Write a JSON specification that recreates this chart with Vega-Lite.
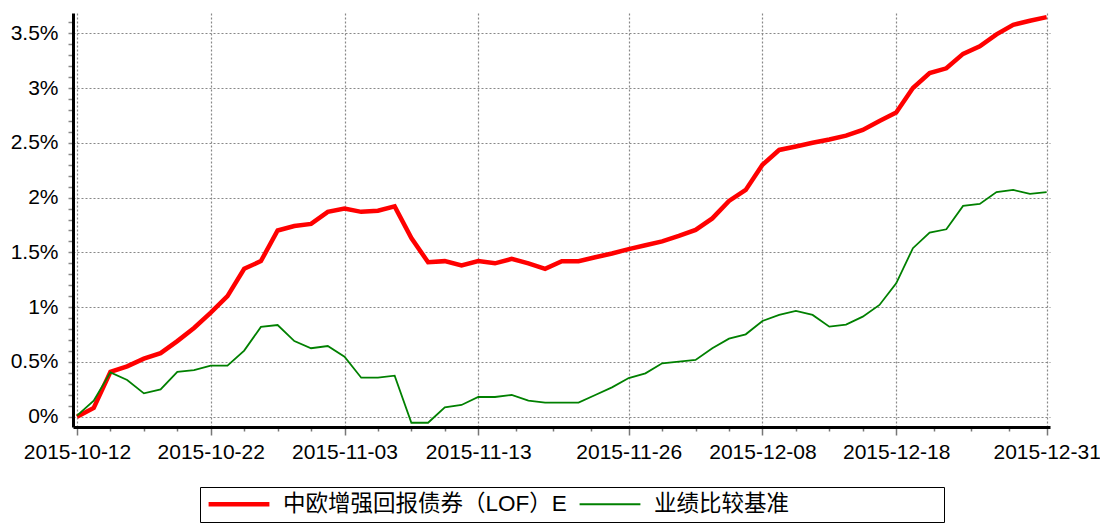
{
  "$schema": "https://vega.github.io/schema/vega-lite/v6.json",
  "autosize": "none",
  "width": 977,
  "height": 414,
  "padding": {"left": 73, "top": 13, "right": 50, "bottom": 96},
  "background": "white",
  "config": {
    "view": {"stroke": null},
    "font": "Liberation Sans, Noto Sans CJK SC"
  },
  "data": {
    "values": [
      {"i": 0, "date": "2015-10-12", "中欧增强回报债券（LOF）E": 0.00, "业绩比较基准": 0.01},
      {"i": 1, "date": "2015-10-13", "中欧增强回报债券（LOF）E": 0.08, "业绩比较基准": 0.146},
      {"i": 2, "date": "2015-10-14", "中欧增强回报债券（LOF）E": 0.41, "业绩比较基准": 0.405},
      {"i": 3, "date": "2015-10-15", "中欧增强回报债券（LOF）E": 0.46, "业绩比较基准": 0.335},
      {"i": 4, "date": "2015-10-16", "中欧增强回报债券（LOF）E": 0.53, "业绩比较基准": 0.213},
      {"i": 5, "date": "2015-10-19", "中欧增强回报债券（LOF）E": 0.58, "业绩比较基准": 0.25},
      {"i": 6, "date": "2015-10-20", "中欧增强回报债券（LOF）E": 0.69, "业绩比较基准": 0.41},
      {"i": 7, "date": "2015-10-21", "中欧增强回报债券（LOF）E": 0.81, "业绩比较基准": 0.426},
      {"i": 8, "date": "2015-10-22", "中欧增强回报债券（LOF）E": 0.95, "业绩比较基准": 0.466},
      {"i": 9, "date": "2015-10-23", "中欧增强回报债券（LOF）E": 1.10, "业绩比较基准": 0.466},
      {"i": 10, "date": "2015-10-26", "中欧增强回报债券（LOF）E": 1.35, "业绩比较基准": 0.603},
      {"i": 11, "date": "2015-10-27", "中欧增强回报债券（LOF）E": 1.42, "业绩比较基准": 0.82},
      {"i": 12, "date": "2015-10-28", "中欧增强回报债券（LOF）E": 1.70, "业绩比较基准": 0.837},
      {"i": 13, "date": "2015-10-29", "中欧增强回报债券（LOF）E": 1.74, "业绩比较基准": 0.69},
      {"i": 14, "date": "2015-10-30", "中欧增强回报债券（LOF）E": 1.76, "业绩比较基准": 0.625},
      {"i": 15, "date": "2015-11-02", "中欧增强回报债券（LOF）E": 1.87, "业绩比较基准": 0.645},
      {"i": 16, "date": "2015-11-03", "中欧增强回报债券（LOF）E": 1.90, "业绩比较基准": 0.548},
      {"i": 17, "date": "2015-11-04", "中欧增强回报债券（LOF）E": 1.87, "业绩比较基准": 0.356},
      {"i": 18, "date": "2015-11-05", "中欧增强回报债券（LOF）E": 1.88, "业绩比较基准": 0.356},
      {"i": 19, "date": "2015-11-06", "中欧增强回报债券（LOF）E": 1.92, "业绩比较基准": 0.374},
      {"i": 20, "date": "2015-11-09", "中欧增强回报债券（LOF）E": 1.63, "业绩比较基准": -0.055},
      {"i": 21, "date": "2015-11-10", "中欧增强回报债券（LOF）E": 1.41, "业绩比较基准": -0.055},
      {"i": 22, "date": "2015-11-11", "中欧增强回报债券（LOF）E": 1.42, "业绩比较基准": 0.086},
      {"i": 23, "date": "2015-11-12", "中欧增强回报债券（LOF）E": 1.38, "业绩比较基准": 0.107},
      {"i": 24, "date": "2015-11-13", "中欧增强回报债券（LOF）E": 1.42, "业绩比较基准": 0.18},
      {"i": 25, "date": "2015-11-16", "中欧增强回报债券（LOF）E": 1.40, "业绩比较基准": 0.18},
      {"i": 26, "date": "2015-11-17", "中欧增强回报债券（LOF）E": 1.44, "业绩比较基准": 0.198},
      {"i": 27, "date": "2015-11-18", "中欧增强回报债券（LOF）E": 1.40, "业绩比较基准": 0.146},
      {"i": 28, "date": "2015-11-19", "中欧增强回报债券（LOF）E": 1.35, "业绩比较基准": 0.128},
      {"i": 29, "date": "2015-11-20", "中欧增强回报债券（LOF）E": 1.42, "业绩比较基准": 0.128},
      {"i": 30, "date": "2015-11-23", "中欧增强回报债券（LOF）E": 1.42, "业绩比较基准": 0.128},
      {"i": 31, "date": "2015-11-24", "中欧增强回报债券（LOF）E": 1.455, "业绩比较基准": 0.198},
      {"i": 32, "date": "2015-11-25", "中欧增强回报债券（LOF）E": 1.49, "业绩比较基准": 0.268},
      {"i": 33, "date": "2015-11-26", "中欧增强回报债券（LOF）E": 1.53, "业绩比较基准": 0.353},
      {"i": 34, "date": "2015-11-27", "中欧增强回报债券（LOF）E": 1.565, "业绩比较基准": 0.396},
      {"i": 35, "date": "2015-11-30", "中欧增强回报债券（LOF）E": 1.60, "业绩比较基准": 0.487},
      {"i": 36, "date": "2015-12-01", "中欧增强回报债券（LOF）E": 1.65, "业绩比较基准": 0.502},
      {"i": 37, "date": "2015-12-02", "中欧增强回报债券（LOF）E": 1.705, "业绩比较基准": 0.518},
      {"i": 38, "date": "2015-12-03", "中欧增强回报债券（LOF）E": 1.81, "业绩比较基准": 0.625},
      {"i": 39, "date": "2015-12-04", "中欧增强回报债券（LOF）E": 1.97, "业绩比较基准": 0.712},
      {"i": 40, "date": "2015-12-07", "中欧增强回报债券（LOF）E": 2.07, "业绩比较基准": 0.752},
      {"i": 41, "date": "2015-12-08", "中欧增强回报债券（LOF）E": 2.30, "业绩比较基准": 0.874},
      {"i": 42, "date": "2015-12-09", "中欧增强回报债券（LOF）E": 2.435, "业绩比较基准": 0.929},
      {"i": 43, "date": "2015-12-10", "中欧增强回报债券（LOF）E": 2.466, "业绩比较基准": 0.965},
      {"i": 44, "date": "2015-12-11", "中欧增强回报债券（LOF）E": 2.50, "业绩比较基准": 0.929},
      {"i": 45, "date": "2015-12-14", "中欧增强回报债券（LOF）E": 2.53, "业绩比较基准": 0.822},
      {"i": 46, "date": "2015-12-15", "中欧增强回报债券（LOF）E": 2.566, "业绩比较基准": 0.84},
      {"i": 47, "date": "2015-12-16", "中欧增强回报债券（LOF）E": 2.618, "业绩比较基准": 0.913},
      {"i": 48, "date": "2015-12-17", "中欧增强回报债券（LOF）E": 2.70, "业绩比较基准": 1.02},
      {"i": 49, "date": "2015-12-18", "中欧增强回报债券（LOF）E": 2.776, "业绩比较基准": 1.218},
      {"i": 50, "date": "2015-12-21", "中欧增强回报债券（LOF）E": 3.00, "业绩比较基准": 1.538},
      {"i": 51, "date": "2015-12-22", "中欧增强回报债券（LOF）E": 3.136, "业绩比较基准": 1.68},
      {"i": 52, "date": "2015-12-23", "中欧增强回报债券（LOF）E": 3.18, "业绩比较基准": 1.711},
      {"i": 53, "date": "2015-12-24", "中欧增强回报债券（LOF）E": 3.312, "业绩比较基准": 1.924},
      {"i": 54, "date": "2015-12-25", "中欧增强回报债券（LOF）E": 3.38, "业绩比较基准": 1.942},
      {"i": 55, "date": "2015-12-28", "中欧增强回报债券（LOF）E": 3.49, "业绩比较基准": 2.05},
      {"i": 56, "date": "2015-12-29", "中欧增强回报债券（LOF）E": 3.577, "业绩比较基准": 2.07},
      {"i": 57, "date": "2015-12-30", "中欧增强回报债券（LOF）E": 3.614, "业绩比较基准": 2.034},
      {"i": 58, "date": "2015-12-31", "中欧增强回报债券（LOF）E": 3.647, "业绩比较基准": 2.05}
    ]
  },
  "transform": [
    {"fold": ["中欧增强回报债券（LOF）E", "业绩比较基准"], "as": ["series", "value"]}
  ],
  "mark": {"type": "line", "clip": false},
  "encoding": {
    "x": {
      "field": "i",
      "type": "quantitative",
      "scale": {"domain": [-0.24, 58.2], "nice": false, "zero": false},
      "axis": {
        "title": null,
        "values": [0, 2, 4, 6, 8, 10, 12, 14, 16, 18, 20, 22, 24, 26.25, 28.5, 30.75, 33, 35, 37, 39, 41, 43, 45, 47, 49, 51.25, 53.5, 55.75, 58],
        "labelExpr": "datum.value==0?'2015-10-12':datum.value==8?'2015-10-22':datum.value==16?'2015-11-03':datum.value==24?'2015-11-13':datum.value==33?'2015-11-26':datum.value==41?'2015-12-08':datum.value==49?'2015-12-18':datum.value==58?'2015-12-31':''",
        "labelOverlap": false,
        "labelFlush": false,
        "labelBound": false,
        "labelFont": "Liberation Sans",
        "labelFontSize": 21,
        "labelColor": "#000000",
        "labelPadding": 6,
        "domainColor": "#000000",
        "domainWidth": 3,
        "tickColor": "#777777",
        "tickWidth": 1.5,
        "tickSize": {"condition": {"test": "indexof([0,8,16,24,33,41,49,58], datum.value) >= 0", "value": 8}, "value": 4},
        "grid": true,
        "gridColor": "#888888",
        "gridDash": [2, 2],
        "gridWidth": 1.2,
        "gridOpacity": {"condition": {"test": "indexof([0,8,16,24,33,41,49,58], datum.value) >= 0", "value": 1}, "value": 0}
      }
    },
    "y": {
      "field": "value",
      "type": "quantitative",
      "scale": {"domain": [-0.094, 3.685], "nice": false, "zero": false},
      "axis": {
        "title": null,
        "values": [0, 0.1, 0.2, 0.3, 0.4, 0.5, 0.6, 0.7, 0.8, 0.9, 1, 1.1, 1.2, 1.3, 1.4, 1.5, 1.6, 1.7, 1.8, 1.9, 2, 2.1, 2.2, 2.3, 2.4, 2.5, 2.6, 2.7, 2.8, 2.9, 3, 3.1, 3.2, 3.3, 3.4, 3.5, 3.6],
        "labelExpr": "abs(datum.value*2-round(datum.value*2))<0.001 ? format(datum.value,'~g')+'%' : ''",
        "labelOverlap": false,
        "labelFlush": false,
        "labelBound": false,
        "labelFont": "Liberation Sans",
        "labelFontSize": 21,
        "labelColor": "#000000",
        "labelPadding": 10,
        "domainColor": "#000000",
        "domainWidth": 3,
        "tickColor": "#888888",
        "tickWidth": 1.5,
        "tickSize": 5,
        "grid": true,
        "gridColor": "#888888",
        "gridDash": [2, 2],
        "gridWidth": 1.2,
        "gridOpacity": {"condition": {"test": "abs(datum.value*2-round(datum.value*2))<0.001", "value": 1}, "value": 0}
      }
    },
    "color": {
      "field": "series",
      "type": "nominal",
      "scale": {"domain": ["中欧增强回报债券（LOF）E", "业绩比较基准"], "range": ["#ff0000", "#008000"]},
      "legend": {
        "title": null,
        "orient": "none",
        "legendX": 127,
        "legendY": 474,
        "direction": "horizontal",
        "columns": 2,
        "gridAlign": "all",
        "columnPadding": 10,
        "padding": 6,
        "clipHeight": 22,
        "strokeColor": "#000000",
        "fillColor": "#ffffff",
        "symbolType": "stroke",
        "symbolSize": 3700,
        "labelOffset": 11,
        "labelFont": "Liberation Sans, Noto Sans CJK SC",
        "labelFontSize": 22.5,
        "labelColor": "#000000",
        "labelLimit": 500,
        "encode": {"entries": {"update": {"width": {"value": 361}}}}
      }
    },
    "strokeWidth": {
      "field": "series",
      "type": "nominal",
      "scale": {"domain": ["中欧增强回报债券（LOF）E", "业绩比较基准"], "range": [4.5, 1.8]},
      "legend": {
        "title": null,
        "orient": "none",
        "legendX": 127,
        "legendY": 474,
        "direction": "horizontal",
        "columns": 2,
        "gridAlign": "all",
        "columnPadding": 10,
        "padding": 6,
        "clipHeight": 22,
        "strokeColor": "#000000",
        "fillColor": "#ffffff",
        "symbolType": "stroke",
        "symbolSize": 3700,
        "labelOffset": 11,
        "labelFont": "Liberation Sans, Noto Sans CJK SC",
        "labelFontSize": 22.5,
        "labelColor": "#000000",
        "labelLimit": 500,
        "encode": {"entries": {"update": {"width": {"value": 361}}}}
      }
    }
  }
}
